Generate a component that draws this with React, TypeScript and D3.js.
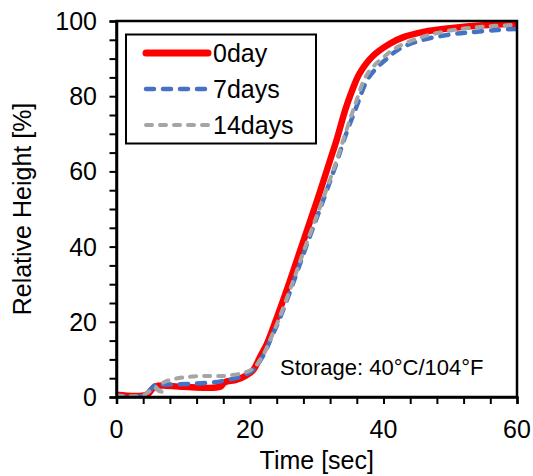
import React, { useEffect, useRef } from "react";
import * as d3 from "d3";

const W = 533;
const H = 476;

const day0T = [0, 4.5, 5.8, 10, 15.5, 16.2, 18, 19.5, 20.5, 21.6, 22.5, 24, 26, 28, 30, 32, 33, 34.3, 35.3, 36.4, 38.3, 41, 43, 46, 50, 55, 60];
const day0V = [0.6, 0.6, 2.8, 2.7, 2.7, 3.9, 4.6, 5.8, 7.2, 11, 14, 21, 31, 41.5, 52, 63, 68.5, 76.5, 81.5, 86, 90.5, 94, 95.7, 97.1, 98.1, 98.9, 99.3];

const day7T = [0, 4.1, 5.9, 7, 11, 14, 16, 18, 19.5, 20.5, 22.1, 23.2, 24.4, 26.4, 28.5, 30.8, 33, 34.1, 35.8, 37.8, 40.5, 42.5, 45.5, 50, 53, 57, 60];
const day7V = [0.4, 0.4, 3.3, 3.3, 3.5, 3.8, 4.3, 5.1, 6.1, 7.3, 11.4, 15.8, 20.6, 30, 40.5, 51.5, 62.5, 68.5, 76.5, 85, 90, 92.7, 94.8, 96.4, 97, 97.6, 97.9];

const day14T = [0, 3.9, 5.8, 7.1, 5.9, 7.5, 10, 13, 16, 19, 20.5, 22.1, 23.2, 24.4, 26.4, 28.5, 30.8, 33, 34, 35.6, 37.6, 40.1, 42, 45, 48, 52, 56, 60];
const day14V = [0.4, 0.4, 2.3, 0.9, 2.4, 4.2, 5.2, 5.6, 5.6, 6.4, 7.6, 11.6, 16, 21, 30.5, 41, 52, 63, 68.5, 77, 86, 90.5, 93, 95.3, 96.8, 98, 98.6, 99];

const seriesNames = ["0day", "7days", "14days"];
const xTickLabels = [0, 20, 40, 60];
const yTickLabels = [0, 20, 40, 60, 80, 100];

const styles = [
  { color: "#ff0000", width: 6.5, dash: null as string | null },
  { color: "#4472c4", width: 4.5, dash: "8 9" },
  { color: "#a5a5a5", width: 4, dash: "6 8" },
];

export default function App() {
  const ref = useRef<SVGSVGElement>(null);
  useEffect(() => {
    const svg = d3.select(ref.current);
    svg.selectAll("*").remove();
    const font = "Arial, 'Liberation Sans', sans-serif";
    const L = 116.5, R = 517, T = 21, B = 397;
    const x = d3.scaleLinear().domain([0, 60]).range([L, R]);
    const y = d3.scaleLinear().domain([0, 100]).range([B, T]);

    const defs = svg.append("defs");
    defs.append("clipPath").attr("id", "plotclip").append("rect")
      .attr("x", L).attr("y", T - 4).attr("width", R - L).attr("height", B - T + 4);

    // series
    const data = [
      day0T.map((t, i) => [t, day0V[i]] as [number, number]),
      day7T.map((t, i) => [t, day7V[i]] as [number, number]),
      day14T.map((t, i) => [t, day14V[i]] as [number, number]),
    ];
    const line = d3.line<[number, number]>()
      .x((d) => x(d[0]))
      .y((d) => y(d[1]))
      .curve(d3.curveCatmullRom.alpha(0.5));
    const g = svg.append("g").attr("clip-path", "url(#plotclip)");
    data.forEach((d, i) => {
      const p = g.append("path").attr("d", line(d) as string)
        .attr("fill", "none").attr("stroke", styles[i].color)
        .attr("stroke-width", styles[i].width)
        .attr("stroke-linejoin", "round")
        .attr("stroke-linecap", "round");
      if (styles[i].dash) p.attr("stroke-dasharray", styles[i].dash as string);
    });

    // frame
    svg.append("rect").attr("x", L).attr("y", T).attr("width", R - L).attr("height", B - T)
      .attr("fill", "none").attr("stroke", "#000").attr("stroke-width", 2.5);

    // axes
    const yAxis = d3.axisLeft(y).tickValues(d3.range(0, 101, 5)).tickSize(7).tickFormat(() => "");
    const ya = svg.append("g").attr("transform", `translate(${L},0)`).call(yAxis);
    ya.select(".domain").attr("stroke-width", 2.5);
    ya.selectAll(".tick line").attr("stroke-width", 2);

    const xAxis = d3.axisBottom(x).tickValues(d3.range(0, 61, 4)).tickSize(7).tickFormat(() => "");
    const xa = svg.append("g").attr("transform", `translate(0,${B})`).call(xAxis);
    xa.select(".domain").attr("stroke-width", 2.5);
    xa.selectAll(".tick line").attr("stroke-width", 2);

    // tick labels
    svg.append("g").selectAll("text").data(yTickLabels).join("text")
      .attr("x", 97).attr("y", (d) => y(d)).attr("dy", "0.36em")
      .attr("text-anchor", "end").attr("font-family", font).attr("font-size", 25)
      .attr("fill", "#000").text((d) => String(d));
    svg.append("g").selectAll("text").data(xTickLabels).join("text")
      .attr("x", (d) => x(d)).attr("y", 438)
      .attr("text-anchor", "middle").attr("font-family", font).attr("font-size", 25)
      .attr("fill", "#000").text((d) => String(d));

    // axis titles
    svg.append("text").attr("x", (L + R) / 2).attr("y", 469).attr("text-anchor", "middle")
      .attr("font-family", font).attr("font-size", 25).text("Time [sec]");
    svg.append("text").attr("transform", `translate(31,${(T + B) / 2}) rotate(-90)`)
      .attr("text-anchor", "middle").attr("font-family", font).attr("font-size", 25)
      .text("Relative Height [%]");

    // annotation
    svg.append("text").attr("x", 280).attr("y", 375).attr("font-family", font)
      .attr("font-size", 22).text("Storage: 40°C/104°F");

    // legend
    const lg = svg.append("g");
    lg.append("rect").attr("x", 126).attr("y", 34.5).attr("width", 190).attr("height", 109)
      .attr("fill", "#fff").attr("stroke", "#000").attr("stroke-width", 2);
    seriesNames.forEach((name, i) => {
      const ly = 53 + i * 36;
      const p = lg.append("line").attr("x1", 146).attr("x2", 208).attr("y1", ly).attr("y2", ly)
        .attr("stroke", styles[i].color).attr("stroke-width", styles[i].width + (i === 0 ? 0.5 : 0))
        .attr("stroke-linecap", "round");
      if (styles[i].dash) p.attr("stroke-dasharray", styles[i].dash as string);
      lg.append("text").attr("x", 213).attr("y", ly + 9).attr("font-family", font)
        .attr("font-size", 25).text(name);
    });
  }, []);

  return (
    <svg ref={ref} width={W} height={H} style={{ position: "absolute", left: 0, top: 0, background: "#fff" }} />
  );
}
